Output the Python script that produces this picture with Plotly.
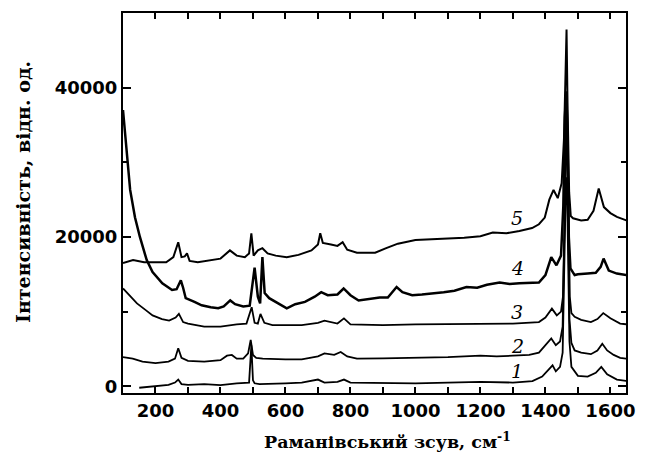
import plotly.graph_objects as go

# Raman shift (cm^-1) and intensity (arb. units) for five spectra
c1_x = [150, 200, 240, 260, 270, 280, 300, 350, 400, 450, 488, 495, 500, 505, 520, 600, 650, 700, 720, 760, 780, 800, 900, 1000, 1100, 1200, 1300, 1360, 1390, 1410, 1422, 1432, 1445, 1453, 1458, 1462, 1466, 1470, 1474, 1480, 1490, 1500, 1530, 1555, 1572, 1590, 1620, 1650]
c1_y = [-200, 0, 200, 500, 900, 300, 200, 300, 150, 400, 500, 5500, 800, 400, 300, 400, 500, 900, 500, 600, 900, 500, 400, 400, 500, 600, 500, 700, 1300, 2200, 2800, 2000, 2600, 4500, 14000, 25000, 28000, 18000, 6000, 2600, 2000, 1400, 1300, 1800, 2600, 1600, 900, 700]

c2_x = [100, 130, 160, 200, 240, 260, 270, 280, 300, 350, 400, 420, 435, 450, 470, 485, 493, 500, 510, 530, 600, 650, 700, 720, 750, 770, 790, 820, 900, 950, 1000, 1100, 1200, 1250, 1300, 1350, 1380, 1400, 1418, 1432, 1445, 1453, 1458, 1462, 1466, 1470, 1474, 1480, 1490, 1510, 1540, 1560, 1575, 1590, 1610, 1630, 1650]
c2_y = [3900, 3700, 3300, 3100, 3300, 3700, 5100, 3800, 3400, 3300, 3500, 4100, 4200, 3700, 3700, 4400, 6200, 4200, 3800, 3700, 3600, 3600, 4000, 4400, 4200, 4600, 4000, 3700, 3750, 3800, 3750, 3900, 4100, 4000, 4100, 4200, 4500, 5500, 6400, 5500, 6000, 8000, 18000, 30000, 33000, 24000, 9000, 5800, 4800, 4500, 4300, 4800, 5700, 4800, 4200, 3800, 3700]

c3_x = [100, 120, 143, 170, 191, 220, 242, 262, 272, 285, 300, 350, 400, 450, 480, 496, 505, 515, 523, 535, 560, 600, 650, 700, 720, 760, 780, 800, 900, 1000, 1100, 1200, 1300, 1380, 1400, 1420, 1435, 1448, 1454, 1459, 1463, 1467, 1471, 1475, 1480, 1490, 1510, 1540, 1560, 1578, 1600, 1630, 1650]
c3_y = [13100, 12200, 11100, 10200, 9500, 9000, 8800, 9200, 9700, 8600, 8400, 8000, 8000, 8300, 8400, 10600, 8500, 8400, 9700, 8500, 8200, 8200, 8200, 8500, 8800, 8400, 9100, 8300, 8200, 8300, 8300, 8400, 8400, 8600, 9200, 10400, 9500, 10000, 12000, 22000, 34000, 37000, 26000, 12000, 9800, 9300, 8900, 8600, 9000, 9800, 9100, 8400, 8300]

c4_x = [100, 106, 112, 122, 137, 152, 173, 191, 221, 251, 265, 278, 285, 293, 320, 342, 370, 393, 410, 430, 445, 470, 490, 505, 515, 522, 529, 536, 550, 575, 604, 630, 660, 690, 710, 730, 760, 779, 800, 825, 860, 890, 915, 942, 960, 990, 1020, 1050, 1087, 1120, 1157, 1190, 1220, 1259, 1290, 1320, 1350, 1380, 1400, 1418, 1434, 1448, 1455, 1460, 1464, 1468, 1472, 1477, 1490, 1500, 1530, 1555, 1570, 1579, 1595, 1620, 1650]
c4_y = [37000, 34000, 30700, 26300, 22600, 20000, 16900, 15300, 13800, 12900, 13000, 14200, 13200, 11800, 11300, 10850, 10600, 10450, 10700, 11500, 11000, 10700, 10800, 15900, 12000, 11100, 17300, 12500, 11800, 11200, 10450, 11000, 11300, 12000, 12600, 12200, 12300, 13100, 12200, 11500, 11700, 11900, 11900, 13300, 12600, 12200, 12300, 12400, 12600, 12800, 13300, 13200, 13600, 13900, 13700, 13800, 13900, 13900, 14900, 17300, 16200, 17500, 24000, 36000, 39500, 33000, 20000, 15800, 14900, 15000, 15100, 15200, 16000, 17100, 15500, 15100, 14900]

c5_x = [100, 131, 165, 200, 233, 255, 270, 280, 290, 297, 305, 330, 360, 400, 429, 450, 475, 488, 495, 502, 515, 529, 545, 570, 604, 640, 680, 700, 707, 715, 740, 760, 776, 790, 820, 876, 910, 946, 1000, 1050, 1100, 1150, 1200, 1238, 1280, 1320, 1359, 1380, 1398, 1412, 1425, 1438, 1450, 1457, 1462, 1465, 1468, 1473, 1478, 1485, 1510, 1530, 1548, 1564, 1580, 1600, 1620, 1650]
c5_y = [16500, 16900, 16600, 16600, 16600, 17300, 19300, 17300, 17400, 17800, 16800, 16600, 16800, 17100, 18200, 17500, 17300, 17800, 20500, 17500, 18200, 18500, 17800, 17500, 17300, 17600, 18200, 19000, 20500, 19200, 19000, 18800, 19300, 18300, 17900, 17900, 18500, 19100, 19600, 19700, 19800, 19900, 20100, 20600, 20500, 20800, 21200, 21700, 22600, 25000, 26300, 25200, 27200, 33000, 42000, 47800, 38000, 26000, 22800, 22500, 22200, 22300, 23500, 26500, 24000, 23200, 22700, 22200]

curve_labels = ["1", "2", "3", "4", "5"]
label_x = [1313, 1313, 1313, 1313, 1313]
label_y = [2000, 5350, 10000, 15900, 22500]

x_title = "Раманівський зсув, см<sup>-1</sup>"
y_title = "Інтенсивність, відн. од."

series = [(c1_x, c1_y, 1.8), (c2_x, c2_y, 1.8), (c3_x, c3_y, 1.8), (c4_x, c4_y, 2.5), (c5_x, c5_y, 2.0)]

fig = go.Figure()
for xs, ys, w in series:
    fig.add_trace(go.Scatter(x=xs, y=ys, mode="lines", line=dict(color="black", width=w),
                             showlegend=False, hoverinfo="skip"))

for t, lx, ly in zip(curve_labels, label_x, label_y):
    fig.add_annotation(x=lx, y=ly, text="<i>" + t + "</i>", showarrow=False,
                       font=dict(family="DejaVu Serif", size=19, color="black"))

fig.add_annotation(xref="paper", yref="paper", x=0.525, y=-0.125, yanchor="middle",
                   text="<b>" + x_title + "</b>", showarrow=False,
                   font=dict(family="DejaVu Serif", size=17.5, color="black"))
fig.add_annotation(xref="paper", yref="paper", x=-0.2, y=0.53, xanchor="center", yanchor="middle",
                   text="<b>" + y_title + "</b>", showarrow=False, textangle=-90,
                   font=dict(family="DejaVu Serif", size=19, color="black"))

axis_common = dict(showgrid=False, zeroline=False, showline=True, linecolor="black", linewidth=2,
                   mirror="ticks", ticks="inside", tickcolor="black", tickwidth=2,
                   tickfont=dict(family="DejaVu Sans", size=18, color="black", weight="bold"))

fig.update_xaxes(range=[100, 1648], tick0=0, dtick=200, ticklen=6, tickformat="d",
                 minor=dict(dtick=100, ticks="inside", ticklen=6, tickcolor="black", tickwidth=2),
                 **axis_common)
fig.update_yaxes(range=[-900, 50000], tick0=0, dtick=20000, ticklen=8, tickformat="d",
                 minor=dict(dtick=10000, ticks="inside", ticklen=5, tickcolor="black", tickwidth=2),
                 **axis_common)

fig.update_layout(width=646, height=466, margin=dict(l=123, r=11, t=13, b=73),
                  paper_bgcolor="white", plot_bgcolor="white")

fig.write_html("out.html")
